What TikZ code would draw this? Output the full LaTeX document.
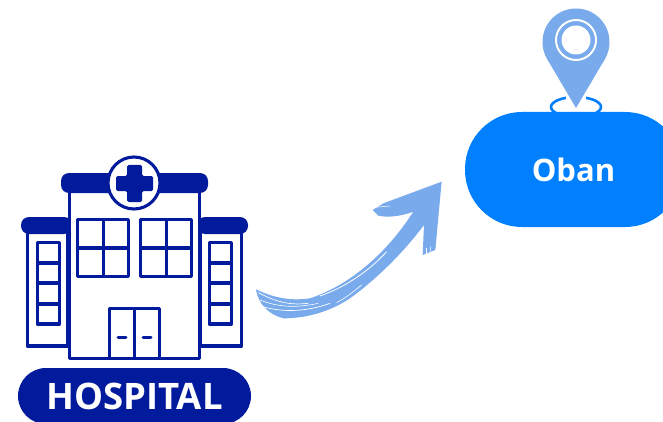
\documentclass[tikz,border=0pt]{standalone}
\usepackage{fontspec}
\usepackage{tikz}
\newfontfamily\pillfont{Open Sans}
\definecolor{navy}{RGB}{2,26,156}
\definecolor{pillblue}{RGB}{0,127,255}
\definecolor{paleblue}{RGB}{120,170,236}
\tikzset{
  wall/.style={draw=navy, line width=3.1pt, fill=white, line join=round},
  roof/.style={fill=navy, rounded corners=8pt},
  pill/.style={text=white, inner sep=0pt, font=\pillfont\bfseries},
}

\begin{document}
\begin{tikzpicture}[x=1pt,y=-1pt]
  \clip (0,0) rectangle (663,422);
  % wings
  \draw[wall] (27.5,230) rectangle (68,346);
  \draw[wall] (200,230) rectangle (241.5,346);
  \fill[roof] (21,217) rectangle (72,234);
  \fill[roof] (197,217) rectangle (248,234);
  \foreach \x in {37.5,209.5} {
    \draw[wall] (\x,242.5) rectangle (\x+22,324);
    \foreach \y in {263,283,304} {
      \draw[wall] (\x,\y) -- (\x+22,\y);
    }
  }
  % main building
  \draw[wall] (69.5,190) rectangle (199.5,358.5);
  \fill[roof] (61,173) rectangle (208,193);
  % windows
  \foreach \x in {77.5,140.5} {
    \draw[wall] (\x,219.5) rectangle (\x+51,276.5);
    \draw[wall] (\x+26,219.5) -- (\x+26,276.5);
    \draw[wall] (\x,248) -- (\x+51,248);
  }
  % door
  \draw[wall] (109.5,308.5) rectangle (159.5,358.5);
  \draw[wall] (134.5,308.5) -- (134.5,358.5);
  \draw[navy, line width=3pt, line cap=round] (118,337) -- (126,337);
  \draw[navy, line width=3pt, line cap=round] (143,337) -- (151,337);
  % cross
  \draw[wall] (134,183) circle (26);
  \fill[navy, rounded corners=1.5pt] (127,165) -- (142,165) -- (142,176) -- (153,176)
    -- (153,191) -- (142,191) -- (142,202) -- (127,202) -- (127,191) -- (116,191)
    -- (116,176) -- (127,176) -- cycle;
  % hospital label
  \node[pill, fill=navy, minimum width=233pt, minimum height=56pt, rounded corners=28pt,
    font=\pillfont\bfseries\fontsize{36.5}{36.5}\selectfont] (hospital) at (134.5,396) {HOSPITAL};

  % location ring and pin
  \draw[pillblue, line width=2.6pt] (576,107) ellipse (25 and 10);
  \node[pill, fill=pillblue, minimum width=217pt, minimum height=115pt, rounded corners=57pt,
    font=\pillfont\bfseries\fontsize{31}{31}\selectfont] (oban) at (573.5,169.5) {Oban};
  \fill[white] (566,90) rectangle (586,110);
  \fill[paleblue] (576,108) -- (547.1,59) -- (604.9,59) -- cycle;
  \fill[paleblue] (576,42) circle (33.5);
  \draw[white, line width=2pt] (576,40) circle (20);
  \fill[white] (576,40) circle (14.5);

  % brush arrow
  \begin{scope}[shift={(250,170)},x=0.3333pt,y=-0.3333pt]
    \fill[paleblue] (18,358) .. controls (80,388) and (130,392) .. (180,385)
      .. controls (300,345) and (410,250) .. (490,125)
      .. controls (450,140) and (410,143) .. (385,137)
      -- (368,120) -- (400,100) -- (575,35) -- (556,240) -- (518,255) -- (522,165)
      .. controls (470,235) and (390,320) .. (300,385)
      .. controls (240,425) and (170,445) .. (100,445)
      .. controls (60,435) and (25,405) .. (18,358) -- cycle;
    % bristle marks
    \draw[white, line width=0.8pt] (210,378) .. controls (290,350) and (360,300) .. (410,245);
    \draw[white, line width=0.7pt] (25,368) .. controls (90,402) and (130,405) .. (175,400);
    \draw[white, line width=0.7pt] (38,410) .. controls (100,428) and (170,425) .. (240,400);
    \draw[white, line width=0.6pt] (30,390) .. controls (90,415) and (150,412) .. (205,400);
    \draw[white, line width=0.6pt] (260,398) .. controls (290,382) and (310,365) .. (335,345);
    \draw[white, line width=0.5pt] (372,112) -- (420,108);
    \draw[white, line width=0.5pt] (530,235) -- (530,252);
    \draw[white, line width=0.5pt] (542,230) -- (540,250);
  \end{scope}
\end{tikzpicture}
\end{document}
